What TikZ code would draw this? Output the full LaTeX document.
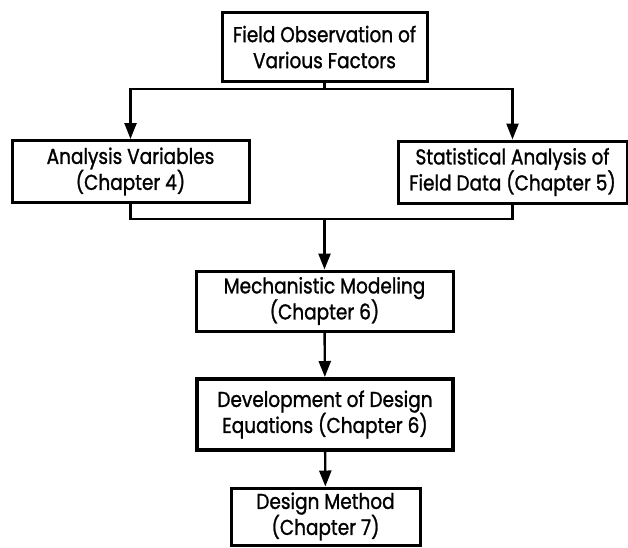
\documentclass[tikz,border=0pt]{standalone}
\usepackage{fontspec}
\setmainfont{Poppins}[FakeStretch=0.86,FakeBold=1.2]
\usetikzlibrary{arrows.meta}
\begin{document}
\begin{tikzpicture}[x=1pt,y=-1pt,
    box/.style={draw,line width=3pt,align=center,inner sep=0pt,
      font=\fontsize{21.5}{26}\selectfont},
    arr/.style={-{Triangle[length=16pt,width=12pt]}},
    line width=2.4pt]
                \useasboundingbox (0,0) rectangle (628,547);
                \node[box,minimum width=205,minimum height=69] (obs) at (324.5,47) {Field Observation of\\Various Factors};
                \node[box,minimum width=237,minimum height=62] (vars) at (130.5,171.5) {Analysis Variables\\(Chapter 4)};
                \node[box,minimum width=229,minimum height=62] (stat) at (512.5,172) {Statistical Analysis of\\Field Data (Chapter 5)};
                \node[box,minimum width=257,minimum height=60] (mech) at (324.5,301) {Mechanistic Modeling\\(Chapter 6)};
                \node[box,line width=4pt,minimum width=256,minimum height=71] (deqn) at (325,414.5) {Development of Design\\Equations (Chapter 6)};
                \node[box,minimum width=189,minimum height=57] (dmeth) at (325.5,516.5) {Design Method\\(Chapter 7)};

                \coordinate (split) at (324.5,89);
                \coordinate (merge) at (324.5,219);

                \draw (obs) to (split);
                \draw[arr] (split) -| (vars);
                \draw[arr] (split) -| (stat);
                \draw (vars) |- (merge);
                \draw (stat) |- (merge);
                \draw[arr] (merge) to (mech);
                \draw[arr] (mech) to (deqn);
                \draw[arr] (deqn) to (dmeth);
            \end{tikzpicture}
\end{document}
